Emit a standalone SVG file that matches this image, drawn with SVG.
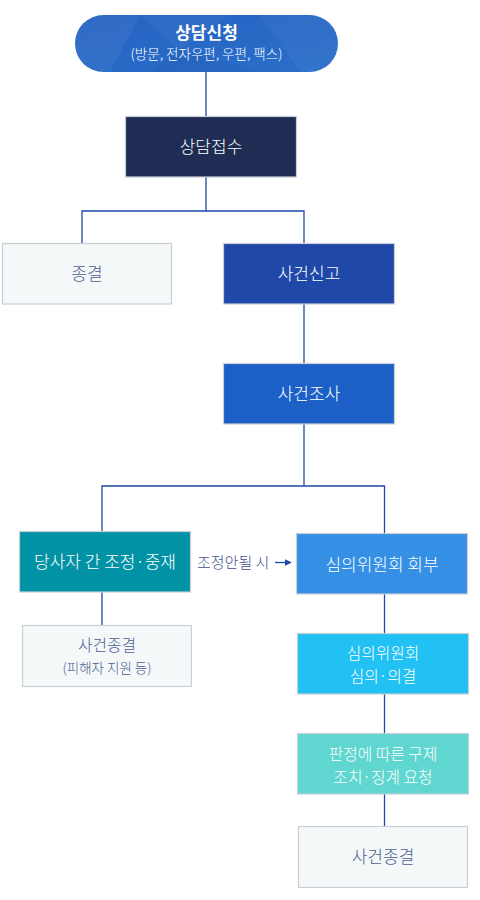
<svg xmlns="http://www.w3.org/2000/svg" width="480" height="900" viewBox="0 0 480 900">
<defs>
<style>
.box{stroke:#c9cfd5;stroke-width:1.2}
.t{font-family:"Noto Sans CJK KR","Noto Sans",sans-serif;font-size:17px;font-weight:300;fill:#ffffff;text-anchor:middle}
.s{font-size:13.5px}
.m{font-size:15.8px}
.lt{fill:#4b5d90}
.ln{fill:none;stroke:#1f47a8;stroke-width:1.3}
</style>
<linearGradient id="pg" x1="0" y1="0" x2="1" y2="1">
<stop offset="0" stop-color="#2663c2"/>
<stop offset="1" stop-color="#2a6fca"/>
</linearGradient>
<clipPath id="pc"><rect x="75" y="15" width="263" height="57" rx="28.5"/></clipPath>
<marker id="ah" viewBox="0 0 10 10" refX="9" refY="5" markerWidth="7" markerHeight="7" orient="auto" markerUnits="userSpaceOnUse">
<path d="M0,0 L10,5 L0,10 z" fill="#1f47a8"/>
</marker>
</defs>
<g id="connectors">
<path class="ln" d="M206,72 V116"/>
<path class="ln" d="M206,177 V211 M82,243 V211 H304 V243"/>
<path class="ln" d="M304,304 V363"/>
<path class="ln" d="M304,424 V486 M102,531 V486 H384.5 V533"/>
<path class="ln" d="M102,592 V625"/>
<path class="ln" d="M384.5,594 V633"/>
<path class="ln" d="M384.5,694 V733"/>
<path class="ln" d="M384.5,794 V826"/>
<path d="M275,562.5 H291" stroke="#1f47a8" stroke-width="1.3" marker-end="url(#ah)"/>
<text class="t lt" x="197" y="568" style="font-size:15px;fill:#3f5088;text-anchor:start">조정안될 시</text>
</g>
<g id="n1">
<rect x="75" y="15" width="263" height="57" rx="28.5" fill="url(#pg)"/>
<g clip-path="url(#pc)">
<polygon points="75,15 140,15 110,72 75,72" fill="#ffffff" opacity="0.05"/>
<polygon points="140,15 230,15 180,50" fill="#ffffff" opacity="0.04"/>
<polygon points="180,50 260,72 150,72" fill="#000000" opacity="0.04"/>
<polygon points="260,15 338,15 338,72 300,72" fill="#ffffff" opacity="0.04"/>
</g>
<text class="t" x="206.5" y="39" style="font-weight:bold">상담신청</text>
<text class="t s" x="206.5" y="59">(방문, 전자우편, 우편, 팩스)</text>
</g>
<g id="n2">
<rect class="box" x="125.5" y="116.5" width="171" height="60.5" fill="#1f2d55"/>
<text class="t" x="211" y="153">상담접수</text>
</g>
<g id="n3">
<rect class="box" x="2.5" y="243.5" width="169" height="60.5" fill="#f5f8f9"/>
<text class="t lt" x="87" y="280">종결</text>
</g>
<g id="n4">
<rect class="box" x="223.5" y="243.5" width="171" height="60.5" fill="#2048a8"/>
<text class="t" x="309" y="280">사건신고</text>
</g>
<g id="n5">
<rect class="box" x="223.5" y="363.5" width="171" height="60.5" fill="#1c5fc6"/>
<text class="t" x="309" y="399.5">사건조사</text>
</g>
<g id="n6">
<rect class="box" x="19.5" y="531.5" width="171" height="60.5" fill="#0292a6"/>
<text class="t" x="105" y="568">당사자 간 조정·중재</text>
</g>
<g id="n7">
<rect class="box" x="296.5" y="533.5" width="171" height="60.5" fill="#358fe4"/>
<text class="t" x="382" y="571">심의위원회 회부</text>
</g>
<g id="n8">
<rect class="box" x="22.5" y="625.5" width="169" height="61" fill="#f5f8f9"/>
<text class="t lt m" x="107" y="651">사건종결</text>
<text class="t lt s" x="107" y="673">(피해자 지원 등)</text>
</g>
<g id="n9">
<rect class="box" x="297.5" y="633.5" width="171" height="60.5" fill="#21c1f3"/>
<text class="t m" x="383" y="659">심의위원회</text>
<text class="t m" x="383" y="682">심의·의결</text>
</g>
<g id="n10">
<rect class="box" x="297.5" y="733.5" width="171" height="60.5" fill="#5fd6d0"/>
<text class="t m" x="383" y="760">판정에 따른 구제</text>
<text class="t m" x="383" y="783">조치·징계 요청</text>
</g>
<g id="n11">
<rect class="box" x="298.5" y="826.5" width="169" height="61" fill="#f5f8f9"/>
<text class="t lt" x="383" y="862.5">사건종결</text>
</g>
</svg>
